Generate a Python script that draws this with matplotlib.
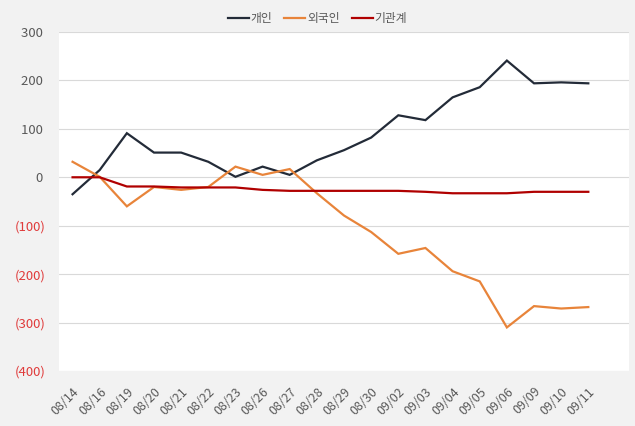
import matplotlib
matplotlib.use("Agg")
import matplotlib.pyplot as plt
from matplotlib.ticker import FuncFormatter, MultipleLocator

plt.rcParams["font.family"] = ["Noto Sans CJK KR", "DejaVu Sans"]

# data
dates = ["08/14", "08/16", "08/19", "08/20", "08/21", "08/22", "08/23", "08/26",
         "08/27", "08/28", "08/29", "08/30", "09/02", "09/03", "09/04", "09/05",
         "09/06", "09/09", "09/10", "09/11"]
individual = [-35, 15, 91, 51, 51, 32, 1, 22, 5, 35, 56, 82, 128, 118, 165, 186,
              241, 194, 196, 194]
foreign = [32, 1, -60, -20, -26, -20, 22, 5, 17, -33, -79, -113, -158, -146,
           -194, -215, -310, -266, -271, -268]
institution = [0, 0, -19, -19, -21, -21, -21, -26, -28, -28, -28, -28, -28, -30,
               -33, -33, -33, -30, -30, -30]

series = [("개인", individual, "#232b38"),
          ("외국인", foreign, "#e8843a"),
          ("기관계", institution, "#b00000")]

fig = plt.figure(figsize=(6.35, 4.26), dpi=100, facecolor="#f2f2f2")
ax = fig.add_axes([0.0929, 0.1291, 0.8977, 0.7958])
ax.set_facecolor("white")

x = list(range(len(dates)))
for name, vals, color in series:
    ax.plot(x, vals, color=color, lw=1.6, label=name, solid_joinstyle="miter")

ax.set_xlim(-0.5, len(dates) + 0.5)
ax.set_ylim(-400, 300)
ax.yaxis.set_major_locator(MultipleLocator(100))


def fmt(v, pos):
    if v < 0:
        return f"({-v:,.0f})"
    return f"{v:,.0f} "


ax.yaxis.set_major_formatter(FuncFormatter(fmt))
ax.grid(axis="y", color="#d9d9d9", lw=0.8)
ax.set_axisbelow(True)
for s in ax.spines.values():
    s.set_visible(False)

ax.tick_params(axis="both", length=0)
ax.tick_params(axis="y", pad=9.5, labelsize=9.5)
for lbl in ax.get_yticklabels():
    lbl.set_color("#e03b3b" if "(" in lbl.get_text() else "#595959")

ax.set_xticks(x)
ax.set_xticklabels(dates, rotation=45, ha="right", rotation_mode="anchor",
                   fontsize=9, color="#595959")
ax.tick_params(axis="x", pad=10)

leg = fig.legend(loc="center", bbox_to_anchor=(0.5, 0.957), ncol=3, frameon=False,
                 fontsize=8.5, handlelength=1.8, handletextpad=0.15,
                 columnspacing=1.0, labelcolor="#595959")

fig.savefig("out.png", dpi=100, facecolor=fig.get_facecolor())
